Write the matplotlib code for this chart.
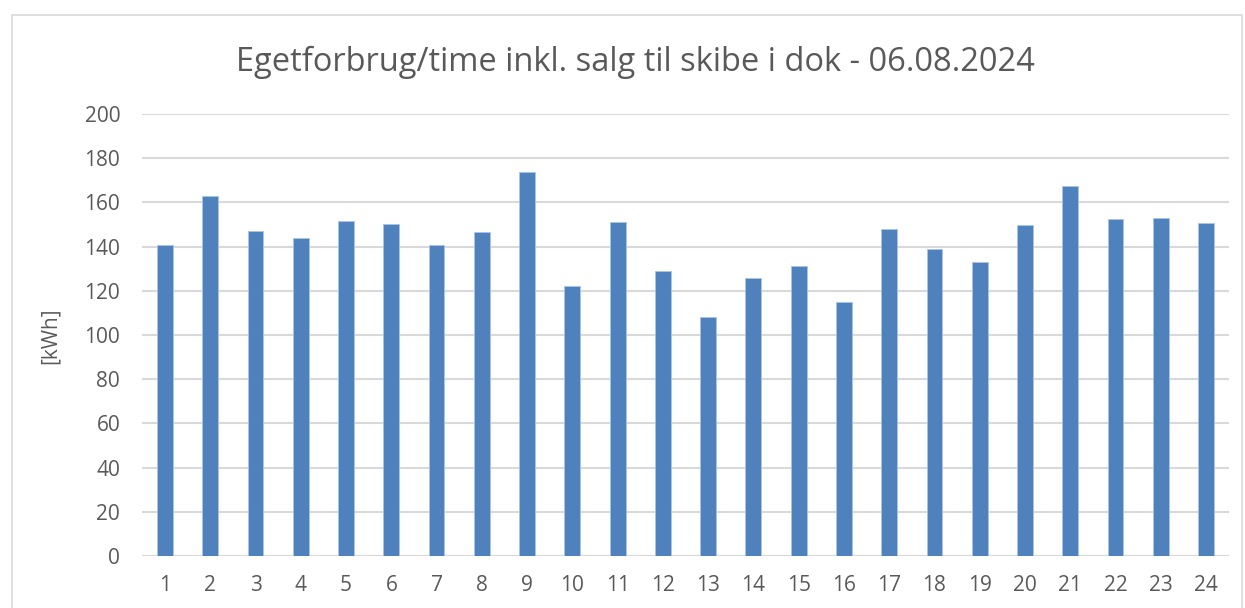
import matplotlib.pyplot as plt
from matplotlib.patches import Rectangle

hours = list(range(1, 25))
kwh = [140.5, 162.9, 147.1, 143.9, 151.8, 150.4, 140.5, 146.8, 173.9, 122.3,
       151.2, 128.8, 108.0, 125.6, 131.1, 114.9, 147.9, 138.8, 132.9, 149.7,
       167.4, 152.5, 152.8, 150.9]
yticks = list(range(0, 201, 20))

title = "Egetforbrug/time inkl. salg til skibe i dok - 06.08.2024"

plt.rcParams["font.family"] = ["Open Sans", "DejaVu Sans"]
txt = "#595959"
grid = "#D9D9D9"

W, H = 1245, 608
fig = plt.figure(figsize=(W / 100, H / 100), dpi=100)

# chart border
fig.patches.append(Rectangle((12 / W, -0.05), (1242 - 12) / W, 1.05 - 15 / H,
                             transform=fig.transFigure, fill=False,
                             edgecolor=grid, linewidth=1.2))

ax = fig.add_axes([142.4 / W, 52 / H, (1228.6 - 142.4) / W, 442 / H])
ax.bar(hours, kwh, width=0.35, color="#4F81BD", edgecolor="#A9C4E6",
       linewidth=0.6, zorder=3)

ax.set_xlim(0.5, 24.5)
ax.set_ylim(0, 200)
ax.set_xticks(hours)
ax.set_yticks(yticks)
ax.yaxis.grid(True, color=grid, linewidth=1.5, zorder=0)
for s in ax.spines.values():
    s.set_visible(False)
ax.axhline(0, color=grid, linewidth=1.5, zorder=2)
ax.tick_params(length=0, labelsize=15, colors=txt)
ax.tick_params(axis="x", pad=14)
ax.tick_params(axis="y", pad=16)
ax.set_ylabel("[kWh]", fontsize=15, color=txt)
ax.yaxis.set_label_coords((61 - 142.4) / (1228.6 - 142.4), (556 - 336) / 442)

fig.text(635 / W, 1 - 62 / H, title, ha="center", va="center",
         fontsize=23.5, color=txt)

fig.savefig("out.png", dpi=100)
